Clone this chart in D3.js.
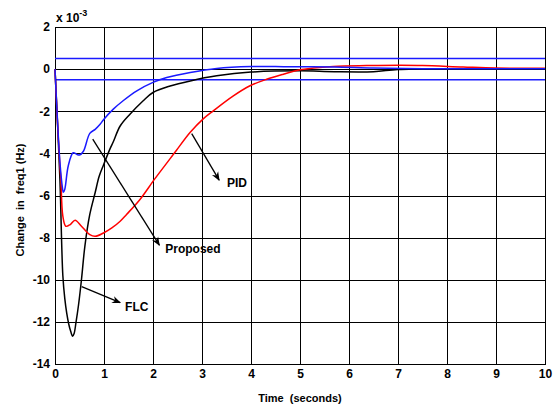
<!DOCTYPE html>
<html>
<head>
<meta charset="utf-8">
<script src="https://cdn.jsdelivr.net/npm/d3@7"></script>
<style>
  body { margin: 0; background: #fff; }
  svg text { font-family: "Liberation Sans", Arial, sans-serif; font-weight: bold; white-space: pre; }
</style>
</head>
<body>
<svg width="557" height="408"></svg>
<script>
// Time axis (seconds) and responses (x 10^-3 Hz)
const propT = [0, 0.05, 0.1, 0.15, 0.17, 0.2, 0.27, 0.37, 0.45, 0.5, 0.58, 0.71, 0.82, 0.92, 0.99, 1.19, 1.39, 1.67, 2.0, 2.28, 2.76, 3.3, 4.0, 4.5, 5.0, 5.7, 6.5, 7.5, 8.5, 10];
const propV = [0, -2.4, -4.4, -5.6, -5.85, -5.7, -4.6, -3.97, -4.05, -4.08, -3.9, -3.05, -2.86, -2.62, -2.4, -1.9, -1.5, -1.03, -0.63, -0.4, -0.16, 0.03, 0.12, 0.12, 0.11, 0.1, 0.05, 0.02, 0.02, 0.02];

const pidT = [0, 0.05, 0.1, 0.12, 0.16, 0.22, 0.31, 0.41, 0.54, 0.71, 0.82, 0.99, 1.16, 1.33, 1.46, 1.73, 2.04, 2.35, 2.48, 2.76, 3.03, 3.23, 3.64, 3.98, 4.32, 4.66, 5.0, 5.68, 6.36, 7.04, 7.5, 8.33, 9, 10];
const pidV = [0, -2.5, -4.6, -5.24, -6.98, -7.46, -7.38, -7.17, -7.46, -7.86, -7.94, -7.78, -7.54, -7.22, -6.9, -6.2, -5.2, -4.25, -3.85, -3.0, -2.35, -1.98, -1.27, -0.79, -0.48, -0.24, -0.03, 0.13, 0.17, 0.18, 0.17, 0.1, 0.05, 0.04];

const flcT = [0, 0.05, 0.1, 0.16, 0.2, 0.24, 0.28, 0.32, 0.36, 0.39, 0.43, 0.48, 0.54, 0.61, 0.71, 0.82, 0.9, 0.99, 1.12, 1.19, 1.33, 1.53, 1.8, 2.0, 2.35, 2.76, 3.3, 4.0, 5.0, 5.7, 6.5, 7.0, 8, 9, 10];
const flcV = [0, -2.5, -5.2, -9.8, -10.9, -11.6, -12.1, -12.45, -12.68, -12.55, -12.0, -11.2, -10.0, -8.4, -6.9, -5.86, -5.1, -4.55, -3.8, -3.45, -2.7, -2.14, -1.5, -1.11, -0.8, -0.56, -0.32, -0.14, -0.08, -0.12, -0.12, -0.02, 0.02, 0.02, 0.02];

// tolerance band
const bandLevels = [0.5, -0.5];

const xTicks = [0, 1, 2, 3, 4, 5, 6, 7, 8, 9, 10];
const yTicks = [2, 0, -2, -4, -6, -8, -10, -12, -14];

// annotations: [label, arrow start t, start v, end t, end v, label t, label v]
const notes = [
  ["Proposed", 0.77, -3.32, 2.13, -8.36, 2.25, -8.75],
  ["PID", 2.79, -3.06, 3.35, -5.27, 3.51, -5.62],
  ["FLC", 0.545, -10.33, 1.33, -11.09, 1.43, -11.5]
];

const svg = d3.select("svg");
const x = d3.scaleLinear().domain([0, 10]).range([55, 545]);
const y = d3.scaleLinear().domain([-14, 2]).range([364, 27]);

svg.append("defs").append("marker")
  .attr("id", "arrow")
  .attr("viewBox", "0 0 10 10")
  .attr("refX", 9).attr("refY", 5)
  .attr("markerWidth", 9).attr("markerHeight", 9)
  .attr("markerUnits", "userSpaceOnUse")
  .attr("orient", "auto")
  .append("path")
  .attr("d", "M0,1 L10,5 L0,9 L3,5 Z")
  .attr("fill", "#000");

// grid
const grid = svg.append("g").attr("stroke", "#000").attr("stroke-width", 1);
grid.selectAll("line.v").data(xTicks).enter().append("line")
  .attr("x1", d => Math.round(x(d)) + 0.5).attr("x2", d => Math.round(x(d)) + 0.5)
  .attr("y1", y(2)).attr("y2", y(-14));
grid.selectAll("line.h").data(yTicks).enter().append("line")
  .attr("x1", x(0)).attr("x2", x(10))
  .attr("y1", d => Math.round(y(d)) + 0.5).attr("y2", d => Math.round(y(d)) + 0.5);

// axes
const xAxis = svg.append("g")
  .attr("transform", `translate(0,${y(-14)})`)
  .call(d3.axisBottom(x).tickValues(xTicks).tickSize(0).tickPadding(5).tickFormat(d3.format("d")));
const yAxis = svg.append("g")
  .attr("transform", `translate(${x(0)},0)`)
  .call(d3.axisLeft(y).tickValues(yTicks).tickSize(0).tickPadding(5).tickFormat(d => d < 0 ? "-" + Math.abs(d) : d));
[xAxis, yAxis].forEach(a => {
  a.select(".domain").remove();
  a.selectAll("text").attr("font-size", 12).attr("fill", "#000")
    .style("font-family", "Liberation Sans, Arial, sans-serif").style("font-weight", "bold");
});

// box
svg.append("rect")
  .attr("x", x(0) + 0.5).attr("y", y(2) + 0.5)
  .attr("width", x(10) - x(0)).attr("height", y(-14) - y(2))
  .attr("fill", "none").attr("stroke", "#000");

// tolerance lines
svg.selectAll("line.band").data(bandLevels).enter().append("line")
  .attr("x1", x(0)).attr("x2", x(10))
  .attr("y1", d => y(d)).attr("y2", d => y(d))
  .attr("stroke", "#1a1aff").attr("stroke-width", 1.5);

const line = d3.line().x(d => x(d[0])).y(d => y(d[1])).curve(d3.curveCatmullRom.alpha(0.5));
const series = [
  [flcT, flcV, "#000"],
  [pidT, pidV, "#ff0000"],
  [propT, propV, "#1a1aff"]
];
series.forEach(([t, v, c]) => {
  svg.append("path")
    .datum(t.map((ti, i) => [ti, v[i]]))
    .attr("d", line)
    .attr("fill", "none")
    .attr("stroke", c)
    .attr("stroke-width", 1.5);
});

// annotations
notes.forEach(n => {
  svg.append("line")
    .attr("x1", x(n[1])).attr("y1", y(n[2]))
    .attr("x2", x(n[3])).attr("y2", y(n[4]))
    .attr("stroke", "#000").attr("stroke-width", 1.3)
    .attr("marker-end", "url(#arrow)");
  svg.append("text")
    .attr("x", x(n[5])).attr("y", y(n[6]))
    .attr("font-size", 12)
    .text(n[0]);
});

// exponent
const exp = svg.append("text").attr("x", 56).attr("y", 22).attr("font-size", 12);
exp.append("tspan").text("x 10");
exp.append("tspan").attr("dy", -6).attr("font-size", 9).text("-3");

// axis labels
svg.append("text")
  .attr("x", 300).attr("y", 402)
  .attr("text-anchor", "middle").attr("font-size", 11)
  .text("Time  (seconds)");
svg.append("text")
  .attr("transform", "translate(24,200) rotate(-90)")
  .attr("text-anchor", "middle").attr("font-size", 11)
  .text("Change  in  freq1 (Hz)");
</script>
</body>
</html>
